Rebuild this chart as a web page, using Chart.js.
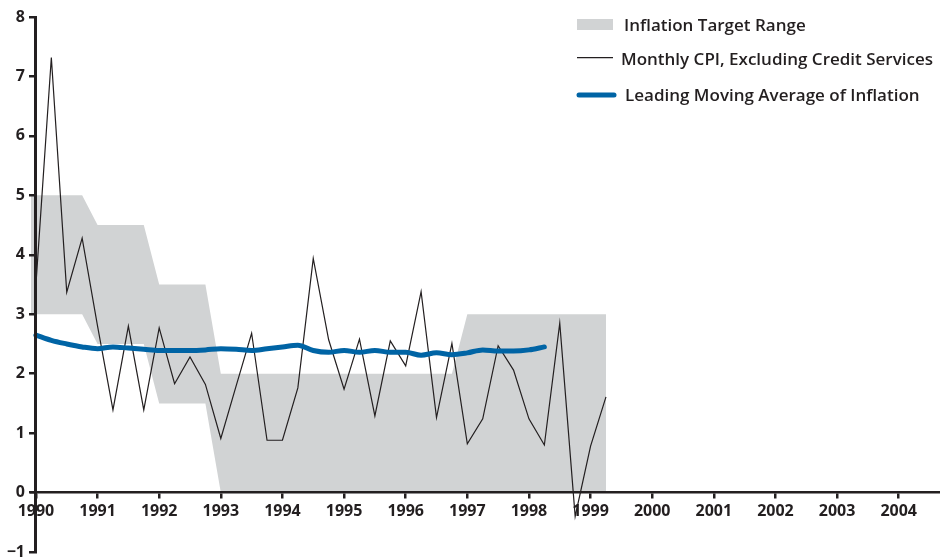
<!DOCTYPE html>
<html>
<head>
<meta charset="utf-8">
<script src="https://cdn.jsdelivr.net/npm/chart.js@4/dist/chart.umd.min.js"></script>
<style>
  html, body { margin: 0; padding: 0; background: #ffffff; }
  #wrap { width: 940px; height: 560px; position: relative; }
</style>
</head>
<body>
<div id="wrap"><canvas id="c" width="940" height="560"></canvas></div>
<script>
// ---- data ----
const yearTicks = [1990, 1991, 1992, 1993, 1994, 1995, 1996, 1997, 1998, 1999, 2000, 2001, 2002, 2003, 2004];
const valueTicks = [-1, 0, 1, 2, 3, 4, 5, 6, 7, 8];

const bandDates = [1989.92, 1990.75, 1991, 1991.75, 1992, 1992.75, 1993, 1996.75, 1997, 1999.25];
const bandUpper = [5, 5, 4.5, 4.5, 3.5, 3.5, 2, 2, 3, 3];
const bandLower = [3, 3, 2.5, 2.5, 1.5, 1.5, 0, 0, 0, 0];

const cpiDates = [1990, 1990.25, 1990.5, 1990.75, 1991, 1991.25, 1991.5, 1991.75,
  1992, 1992.25, 1992.5, 1992.75, 1993, 1993.25, 1993.5, 1993.75,
  1994, 1994.25, 1994.5, 1994.75, 1995, 1995.25, 1995.5, 1995.75,
  1996, 1996.25, 1996.5, 1996.75, 1997, 1997.25, 1997.5, 1997.75,
  1998, 1998.25, 1998.5, 1998.75, 1999, 1999.25];
const cpiValues = [3.5, 7.32, 3.37, 4.28, 2.8, 1.39, 2.8, 1.39,
  2.77, 1.83, 2.28, 1.82, 0.91, 1.8, 2.68, 0.88,
  0.88, 1.76, 3.94, 2.57, 1.74, 2.58, 1.29, 2.55,
  2.13, 3.38, 1.26, 2.51, 0.82, 1.24, 2.47, 2.06,
  1.24, 0.8, 2.85, -0.4, 0.78, 1.61];

const maDates = [1990, 1990.25, 1990.5, 1990.75, 1991, 1991.25, 1991.5, 1991.75,
  1992, 1992.25, 1992.5, 1992.75, 1993, 1993.25, 1993.5, 1993.75,
  1994, 1994.25, 1994.5, 1994.75, 1995, 1995.25, 1995.5, 1995.75,
  1996, 1996.25, 1996.5, 1996.75, 1997, 1997.25, 1997.5, 1997.75,
  1998, 1998.25];
const maValues = [2.65, 2.56, 2.5, 2.45, 2.42, 2.45, 2.43, 2.41,
  2.39, 2.39, 2.39, 2.4, 2.42, 2.41, 2.39, 2.42,
  2.45, 2.48, 2.39, 2.36, 2.39, 2.36, 2.39, 2.36,
  2.36, 2.31, 2.35, 2.32, 2.35, 2.4, 2.38, 2.38,
  2.4, 2.45];

const legendLabels = ['Inflation Target Range', 'Monthly CPI, Excluding Credit Services', 'Leading Moving Average of Inflation'];

// ---- styles ----
const INK = '#231f20';
const GRAY = '#d1d3d4';
const BLUE = '#0064a5';
const FONT = '"Open Sans", Lato, sans-serif';

const pts = (xs, ys) => xs.map((x, i) => ({ x: x, y: ys[i] }));

const legendPlugin = {
  id: 'customLegend',
  afterDraw(chart) {
    const ctx = chart.ctx;
    ctx.save();
    ctx.font = '600 17px ' + FONT;
    ctx.textBaseline = 'alphabetic';
    ctx.textAlign = 'left';
    // row 1: band swatch
    ctx.fillStyle = GRAY;
    ctx.fillRect(577, 19, 36, 11);
    ctx.fillStyle = INK;
    ctx.fillText(legendLabels[0], 624, 31);
    // row 2: thin black line
    ctx.strokeStyle = INK;
    ctx.lineWidth = 1.2;
    ctx.beginPath(); ctx.moveTo(577, 57.7); ctx.lineTo(613, 57.7); ctx.stroke();
    ctx.fillText(legendLabels[1], 621, 65);
    // row 3: thick blue line
    ctx.strokeStyle = BLUE;
    ctx.lineWidth = 5;
    ctx.lineCap = 'round';
    ctx.beginPath(); ctx.moveTo(579, 95); ctx.lineTo(614, 95); ctx.stroke();
    ctx.fillText(legendLabels[2], 625, 101);
    ctx.restore();
  }
};

new Chart(document.getElementById('c'), {
  type: 'line',
  data: {
    datasets: [
      { label: 'lower', data: pts(bandDates, bandLower), borderWidth: 0, borderColor: 'rgba(0,0,0,0)',
        pointRadius: 0, fill: false, order: 4, tension: 0 },
      { label: legendLabels[0], data: pts(bandDates, bandUpper), borderWidth: 0, borderColor: 'rgba(0,0,0,0)',
        backgroundColor: GRAY, pointRadius: 0, fill: '-1', order: 3, tension: 0 },
      { label: legendLabels[1], data: pts(cpiDates, cpiValues), borderColor: INK, borderWidth: 1.2,
        pointRadius: 0, fill: false, order: 2, tension: 0, borderJoinStyle: 'miter' },
      { label: legendLabels[2], data: pts(maDates, maValues), borderColor: BLUE, borderWidth: 5,
        pointRadius: 0, fill: false, order: 1, cubicInterpolationMode: 'monotone',
        borderCapStyle: 'round', borderJoinStyle: 'round' }
    ]
  },
  options: {
    responsive: false,
    animation: false,
    events: [],
    layout: { padding: { top: 17, bottom: 7, left: 0, right: 0 } },
    plugins: { legend: { display: false }, tooltip: { enabled: false } },
    scales: {
      x: {
        type: 'linear',
        min: 1989.92,
        max: 2004.67,
        position: { y: 0 },
        afterBuildTicks: s => { s.ticks = yearTicks.map(v => ({ value: v })); },
        ticks: {
          callback: v => String(v),
          color: INK,
          font: { family: FONT, size: 16, weight: 'bold' },
          padding: 4,
          maxRotation: 0,
          autoSkip: false,
          z: 2
        },
        grid: { drawOnChartArea: false, drawTicks: true, tickLength: 5, color: INK, lineWidth: 2.5, z: 1 },
        border: { display: true, color: INK, width: 2.5, z: 1 }
      },
      y: {
        type: 'linear',
        min: -1,
        max: 8,
        position: 'left',
        afterBuildTicks: s => { s.ticks = valueTicks.map(v => ({ value: v })); },
        afterFit: s => { s.width = 31; },
        ticks: {
          callback: v => (v < 0 ? '\u2212' + Math.abs(v) : String(v)),
          color: INK,
          font: { family: FONT, size: 16, weight: 'bold', lineHeight: 1 },
          padding: 0
        },
        grid: { display: true, drawOnChartArea: false, drawTicks: true, tickLength: 6, color: 'rgba(0,0,0,0)' },
        border: { display: false }
      },
      yLine: {
        type: 'linear',
        axis: 'y',
        min: -1,
        max: 8,
        position: { x: 1990 },
        afterBuildTicks: s => { s.ticks = valueTicks.map(v => ({ value: v })); },
        ticks: { display: false },
        grid: { drawOnChartArea: false, drawTicks: true, tickLength: 5, color: INK, lineWidth: 2.5, z: 1 },
        border: { display: true, color: INK, width: 3, z: 1 }
      }
    }
  },
  plugins: [legendPlugin]
});
</script>
</body>
</html>
